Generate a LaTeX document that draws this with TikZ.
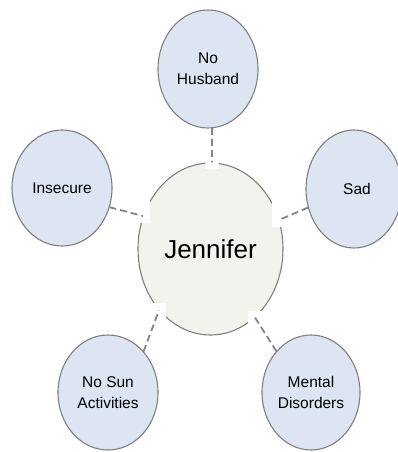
\documentclass[tikz,border=0pt]{standalone}
\usepackage{fontspec}
\setmainfont{Liberation Sans}
\usetikzlibrary{shapes.geometric,fit}
\definecolor{bluefill}{HTML}{DCE5F1}
\definecolor{centerfill}{HTML}{F3F2ED}
\definecolor{rimgray}{HTML}{7F7F7F}
\definecolor{dashgray}{HTML}{858585}
\tikzset{
  bubble/.style={ellipse, draw=rimgray, line width=1.1pt, fill=bluefill, inner sep=0pt,
    align=center, font=\fontsize{15.5}{21}\selectfont},
  hub/.style={ellipse, draw=rimgray, line width=1.1pt, fill=centerfill, inner sep=0pt,
    font=\fontsize{26}{31}\selectfont},
  anchorshape/.style={ellipse, inner sep=0pt},
  linkpatch/.style={fill=white, draw=none, inner sep=7pt},
  linkline/.style={draw=dashgray, line width=1.8pt, dash pattern=on 7pt off 4pt}
}
\begin{document}
\begin{tikzpicture}[x=1pt,y=-1pt]
\useasboundingbox (0,0) rectangle (398,452);
\clip (0,0) rectangle (398,452);
% hub
\node[hub, minimum width=145pt, minimum height=172pt] (jen) at (210.5,249) {Jennifer};
% invisible outlines of the outer bubbles, to place the connector ends
\path node[anchorshape, minimum width=100pt, minimum height=118pt] (nhp) at (208,69) {}
      node[anchorshape, minimum width=100pt, minimum height=116pt] (insp) at (62,188) {}
      node[anchorshape, minimum width=96pt, minimum height=118pt] (sadp) at (354,189) {}
      node[anchorshape, minimum width=100pt, minimum height=115pt] (nsp) at (108,392.5) {}
      node[anchorshape, minimum width=98pt, minimum height=115pt] (mdp) at (311,392.5) {};
\coordinate (a1) at (nhp.-86);    \coordinate (b1) at (jen.89);
\coordinate (a2) at (insp.-22);   \coordinate (b2) at (jen.154.6);
\coordinate (a3) at (sadp.202.4); \coordinate (b3) at (jen.23.8);
\coordinate (a4) at (nsp.49.2);   \coordinate (b4) at (jen.230.4);
\coordinate (a5) at (mdp.130.3);  \coordinate (b5) at (jen.-57.2);
% white patches of the connectors
\node[linkpatch, fit=(a1)(b1)] (p1) {};
\node[linkpatch, fit=(a2)(b2)] (p2) {};
\node[linkpatch, fit=(a3)(b3)] (p3) {};
\node[linkpatch, fit=(a4)(b4)] (p4) {};
\node[linkpatch, fit=(a5)(b5)] (p5) {};
% connectors
\draw[linkline] (a1) -- (b1);
\draw[linkline] (a2) -- (b2);
\draw[linkline] (a3) -- (b3);
\draw[linkline] (a4) -- (b4);
\draw[linkline] (a5) -- (b5);
% outer bubbles
\node[bubble, minimum width=100pt, minimum height=118pt] (nh) at (208,69) {No\\Husband};
\node[bubble, minimum width=100pt, minimum height=116pt] (ins) at (62,188) {Insecure};
\node[bubble, minimum width=96pt, minimum height=118pt] (sad) at (354,189) {\hspace*{6pt}Sad};
\node[bubble, minimum width=100pt, minimum height=115pt] (ns) at (108,392.5) {No Sun\\Activities};
\node[bubble, minimum width=98pt, minimum height=115pt] (md) at (311,392.5) {Mental\\Disorders};
\end{tikzpicture}
\end{document}
